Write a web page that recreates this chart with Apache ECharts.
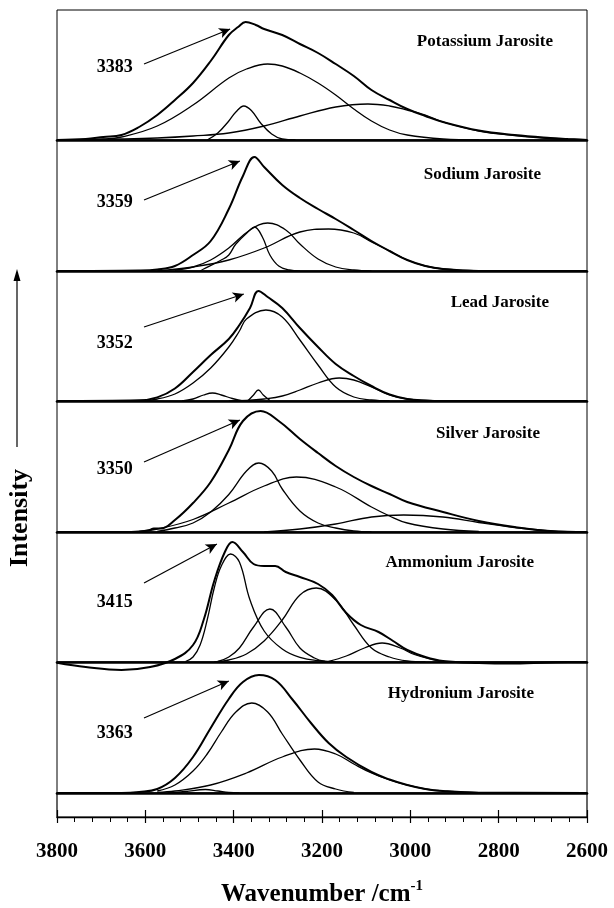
<!DOCTYPE html>
<html><head><meta charset="utf-8">
<script src="https://cdn.jsdelivr.net/npm/echarts@6/dist/echarts.min.js"></script>
<style>html,body{margin:0;padding:0;background:#fff}#c{width:614px;height:908px}</style>
</head><body><div id="c"></div>
<script>
// ---------- data (wavenumber /cm-1, relative intensity) ----------
const xTicks = [3800, 3600, 3400, 3200, 3000, 2800, 2600];
const panelNames = ['Potassium Jarosite', 'Sodium Jarosite', 'Lead Jarosite', 'Silver Jarosite', 'Ammonium Jarosite', 'Hydronium Jarosite'];
const peakLabels = ['3383', '3359', '3352', '3350', '3415', '3363'];

// Potassium
const potTotal = [[3800,0],[3735,1],[3695,3],[3654,5],[3614,13],[3573,25],[3533,40],[3492,57],[3452,79],[3411,105],[3390,113],[3373,118],[3350,115],[3331,111],[3290,105],[3250,96],[3209,87],[3169,76],[3128,64],[3088,50],[3047,40],[3007,31],[2966,24],[2926,18],[2845,9.5],[2764,5],[2683,2],[2643,1],[2600,0]];
const potA = [[3800,0],[3695,1],[3654,3],[3573,14],[3492,35],[3411,62],[3371,71],[3323,76],[3290,74],[3250,67],[3209,57],[3169,45],[3128,31],[3088,19],[3047,10],[3007,5],[2926,1],[2845,0]];
const potB = [[3460,0],[3436,7],[3411,19],[3395,28],[3377,34],[3359,29],[3339,17],[3314,6],[3290,1],[3260,0]];
const potC = [[3800,0],[3654,1],[3573,2],[3492,4],[3411,7],[3331,14],[3250,24],[3169,33],[3096,36],[3047,34],[3007,30],[2966,25],[2926,18],[2845,9],[2764,4.5],[2683,1.5],[2600,0.3]];

// Sodium
const naTotal = [[3800,0],[3614,0.5],[3573,1.5],[3533,5],[3492,16],[3452,30],[3411,62],[3379,95],[3353,114],[3331,104],[3290,86],[3250,73],[3209,62],[3169,52],[3128,41],[3088,30],[3047,20],[3007,11],[2966,5],[2926,2],[2845,0],[2600,0]];
const naA = [[3476,0],[3468,2],[3428,11],[3411,16],[3395,27],[3363,41],[3353,44],[3335,34],[3318,16],[3298,5],[3274,1],[3250,0]];
const naB = [[3533,1],[3492,4],[3452,11],[3411,23],[3363,41],[3323,48],[3282,41],[3250,27],[3209,12],[3169,4],[3128,1],[3088,0]];
const naC = [[3573,0],[3492,4],[3411,11],[3331,23],[3250,39],[3185,42],[3128,38],[3088,29],[3047,20],[3007,11],[2966,5],[2926,2],[2845,0]];

// Lead
const pbTotal = [[3800,0],[3614,0.7],[3573,3.6],[3533,12.5],[3492,29],[3452,46],[3411,62],[3387,76],[3363,93],[3344,110],[3323,104],[3290,93],[3250,73],[3209,54],[3169,37],[3128,25],[3088,15],[3047,6.5],[3007,2],[2966,0.5],[2926,0],[2600,0]];
const pbA = [[3614,0],[3573,2],[3533,7],[3492,18],[3452,33],[3411,54],[3387,70],[3371,82],[3327,91],[3290,84],[3250,61],[3209,36],[3169,14],[3128,4],[3088,1],[3047,0]];
const pbB = [[3517,0],[3492,2],[3468,6],[3448,8],[3428,6],[3403,2.5],[3379,0]];
const pbC = [[3367,0.5],[3355,6],[3344,11],[3333,6],[3318,0.5]];
const pbD = [[3411,0],[3371,0.5],[3331,2],[3290,5],[3250,11],[3209,18],[3161,23],[3128,21],[3088,14],[3047,6],[3007,2],[2966,0.5],[2926,0]];

// Silver
const agTotal = [[3800,0],[3654,0],[3614,0.5],[3590,2],[3581,3.5],[3565,3.5],[3533,12],[3492,29],[3452,50],[3411,82],[3379,111],[3339,121],[3298,111],[3250,93],[3209,79],[3169,66],[3128,55],[3088,46],[3047,38],[3007,30],[2926,20],[2845,11],[2764,5],[2683,1],[2600,0]];
const agA = [[3573,0.5],[3533,4],[3492,9],[3452,20],[3411,37.5],[3371,61],[3343,69],[3314,61],[3290,43],[3250,21],[3209,9],[3169,4],[3128,1],[3088,0]];
const agB = [[3614,0.5],[3573,3],[3492,12.5],[3411,29],[3331,46],[3258,55],[3169,45],[3088,25],[3047,16],[3007,9],[2926,3],[2845,0.5]];
const agC = [[3331,0],[3250,3],[3169,8],[3088,15],[3015,17],[2926,15],[2845,9.5],[2764,4.5],[2683,1.2],[2643,0.3]];

// Ammonium
const nhTotal = [[3800,-0.7],[3735,-5],[3654,-8],[3589,-5],[3533,3],[3492,17],[3468,42],[3444,81],[3420,110],[3403,120],[3379,110],[3355,98],[3331,96],[3306,96],[3282,90],[3250,85],[3209,78],[3177,67],[3145,49],[3112,37],[3072,30],[3039,21],[3007,12],[2966,5],[2926,1],[2845,-1],[2764,-1.5],[2643,0],[2600,0]];
const nhA = [[3509,0.5],[3492,5],[3476,17],[3460,42],[3444,74],[3428,96],[3407,108],[3387,100],[3363,62],[3331,31],[3290,13],[3250,4.6],[3201,1],[3169,0]];
const nhB = [[3436,0.5],[3411,5],[3387,14],[3355,35],[3318,53],[3282,35],[3250,14],[3217,4],[3193,0.5]];
const nhC = [[3444,0],[3411,2],[3371,8],[3331,21],[3290,42],[3250,67],[3213,74],[3169,62],[3128,37],[3088,14],[3047,5],[3007,1],[2966,0]];
const nhD = [[3185,0.5],[3145,6],[3104,14],[3064,19],[3023,14],[2991,7.5],[2950,2.5],[2918,0]];

// Hydronium
const h3oTotal = [[3800,0],[3654,0],[3614,1],[3573,4],[3533,15],[3492,36],[3452,65],[3411,94],[3379,111],[3343,118],[3306,113],[3266,93],[3225,70],[3185,50],[3145,36],[3088,21],[3047,13.5],[3007,8],[2966,4],[2926,2],[2845,0.3],[2600,0]];
const h3oA = [[3573,2],[3533,8],[3492,22],[3460,39],[3428,61],[3395,81],[3359,90],[3323,81],[3290,59],[3250,33],[3209,11],[3169,4],[3128,0.5]];
const h3oB = [[3573,0.5],[3533,2],[3452,8],[3371,20],[3290,36],[3217,44],[3169,39],[3128,29],[3088,20],[3047,13],[3007,8],[2966,4],[2926,2],[2845,0.3]];
const h3oC = [[3549,0],[3509,1.5],[3464,3.5],[3436,2],[3411,0.5],[3387,0]];

const panels = [
  [potTotal, potA, potB, potC],
  [naTotal, naA, naB, naC],
  [pbTotal, pbA, pbB, pbC, pbD],
  [agTotal, agA, agB, agC],
  [nhTotal, nhA, nhB, nhC, nhD],
  [h3oTotal, h3oA, h3oB, h3oC]
];

// ---------- annotation placement (data units) ----------
const labelAt = [[3669,73],[3669,69],[3669,58],[3669,63],[3669,60],[3669,60]];
const arrowFrom = [[3603,76],[3603,71],[3603,74],[3603,70],[3603,79],[3603,75]];
const arrowTo = [[3408,111],[3386,110],[3377,107],[3386,112],[3438,118],[3411,112]];

// ---------- layout ----------
const FONT = '"Liberation Serif","Times New Roman",serif';
const L = 57, R = 614 - 587;
const tops = [10, 140, 271, 401, 532, 662];
const hts = [130, 131, 130, 131, 130, 131];
const titleRight = [553, 541, 549, 540, 534, 534];
const titleY = [42, 175, 303, 434, 563, 694];

const grids = [], xAxes = [], yAxes = [], series = [];
tops.forEach((t, i) => {
  grids.push({left: L, right: R, top: t, height: hts[i], show: true, borderColor: '#000', borderWidth: 1, backgroundColor: 'transparent'});
  xAxes.push({type: 'value', gridIndex: i, min: 2600, max: 3800, inverse: true,
    axisLine: {show: true, onZero: false, lineStyle: {color: '#000', width: 2.6}},
    axisTick: {show: false}, axisLabel: {show: false}, splitLine: {show: false}});
  yAxes.push({type: 'value', gridIndex: i, min: 0, max: hts[i], show: false});
});
// bottom axis strip
grids.push({left: L, right: R, top: 793, height: 26, show: true, borderColor: '#000', borderWidth: 1.2, backgroundColor: 'transparent'});
xAxes.push({type: 'value', gridIndex: 6, min: 2600, max: 3800, interval: 200, inverse: true, position: 'bottom',
  axisLine: {show: true, onZero: false, lineStyle: {color: '#000', width: 1.3}},
  axisTick: {show: true, inside: false, length: 6, lineStyle: {color: '#000', width: 1.2}},
  minorTick: {show: true, splitNumber: 5, length: 5, lineStyle: {color: '#000', width: 1}},
  splitLine: {show: false}, minorSplitLine: {show: false},
  axisLabel: {show: true, margin: 24, color: '#000', fontFamily: FONT, fontWeight: 'bold', fontSize: 21, showMinLabel: true, showMaxLabel: true,
    formatter: v => xTicks.includes(v) ? String(v) : ''},
  name: '{a|Wavenumber /cm}{b|-1}', nameLocation: 'middle', nameGap: 62,
  nameTextStyle: {rich: {
    a: {fontFamily: FONT, fontWeight: 'bold', fontSize: 25, color: '#000', lineHeight: 28, verticalAlign: 'bottom'},
    b: {fontFamily: FONT, fontWeight: 'bold', fontSize: 15, color: '#000', lineHeight: 28, verticalAlign: 'top'}
  }}
});
xAxes.push({type: 'value', gridIndex: 6, min: 2600, max: 3800, interval: 200, inverse: true, position: 'bottom',
  axisLine: {show: false}, axisTick: {show: true, inside: true, length: 7, lineStyle: {color: '#000', width: 1.2}},
  axisLabel: {show: false}, splitLine: {show: false}});
yAxes.push({type: 'value', gridIndex: 6, min: 0, max: 1, show: false});

panels.forEach((curves, i) => {
  curves.forEach((d, j) => {
    const s = {type: 'line', xAxisIndex: i, yAxisIndex: i, data: d, smooth: 0.4, symbol: 'none', showSymbol: false,
      clip: false, silent: true, z: j === 0 ? 4 : 3,
      lineStyle: {color: '#000', width: j === 0 ? 2 : 1.3}};
    if (j === 0) {
      s.markLine = {silent: true, symbol: ['none', 'arrow'], symbolSize: [8, 11], animation: false,
        lineStyle: {color: '#000', width: 1.2, type: 'solid'}, label: {show: false}, emphasis: {disabled: true},
        data: [[{coord: arrowFrom[i]}, {coord: arrowTo[i]}]]};
      s.markPoint = {silent: true, symbol: 'circle', symbolSize: 1, itemStyle: {color: 'rgba(0,0,0,0)'}, animation: false,
        label: {show: true, position: 'inside', formatter: peakLabels[i], color: '#000', fontFamily: FONT, fontWeight: 'bold', fontSize: 18},
        data: [{coord: labelAt[i]}]};
    }
    series.push(s);
  });
});

const graphics = panelNames.map((n, i) => ({type: 'text', x: titleRight[i], y: titleY[i], silent: true,
  style: {text: n, fill: '#000', font: 'bold 17px ' + FONT, textAlign: 'right', textVerticalAlign: 'middle'}}));
graphics.push({type: 'text', x: 20, y: 518, rotation: Math.PI / 2, silent: true,
  style: {text: 'Intensity', fill: '#000', font: 'bold 26px ' + FONT, textAlign: 'center', textVerticalAlign: 'middle'}});
graphics.push({type: 'line', silent: true, shape: {x1: 17, y1: 447, x2: 17, y2: 280}, style: {stroke: '#000', lineWidth: 1.2}});
graphics.push({type: 'polygon', silent: true, shape: {points: [[17, 269], [13.5, 281], [20.5, 281]]}, style: {fill: '#000'}});

const chart = echarts.init(document.getElementById('c'), null, {renderer: 'canvas'});
chart.setOption({animation: false, backgroundColor: '#fff', grid: grids, xAxis: xAxes, yAxis: yAxes, series: series, graphic: graphics});
</script></body></html>
